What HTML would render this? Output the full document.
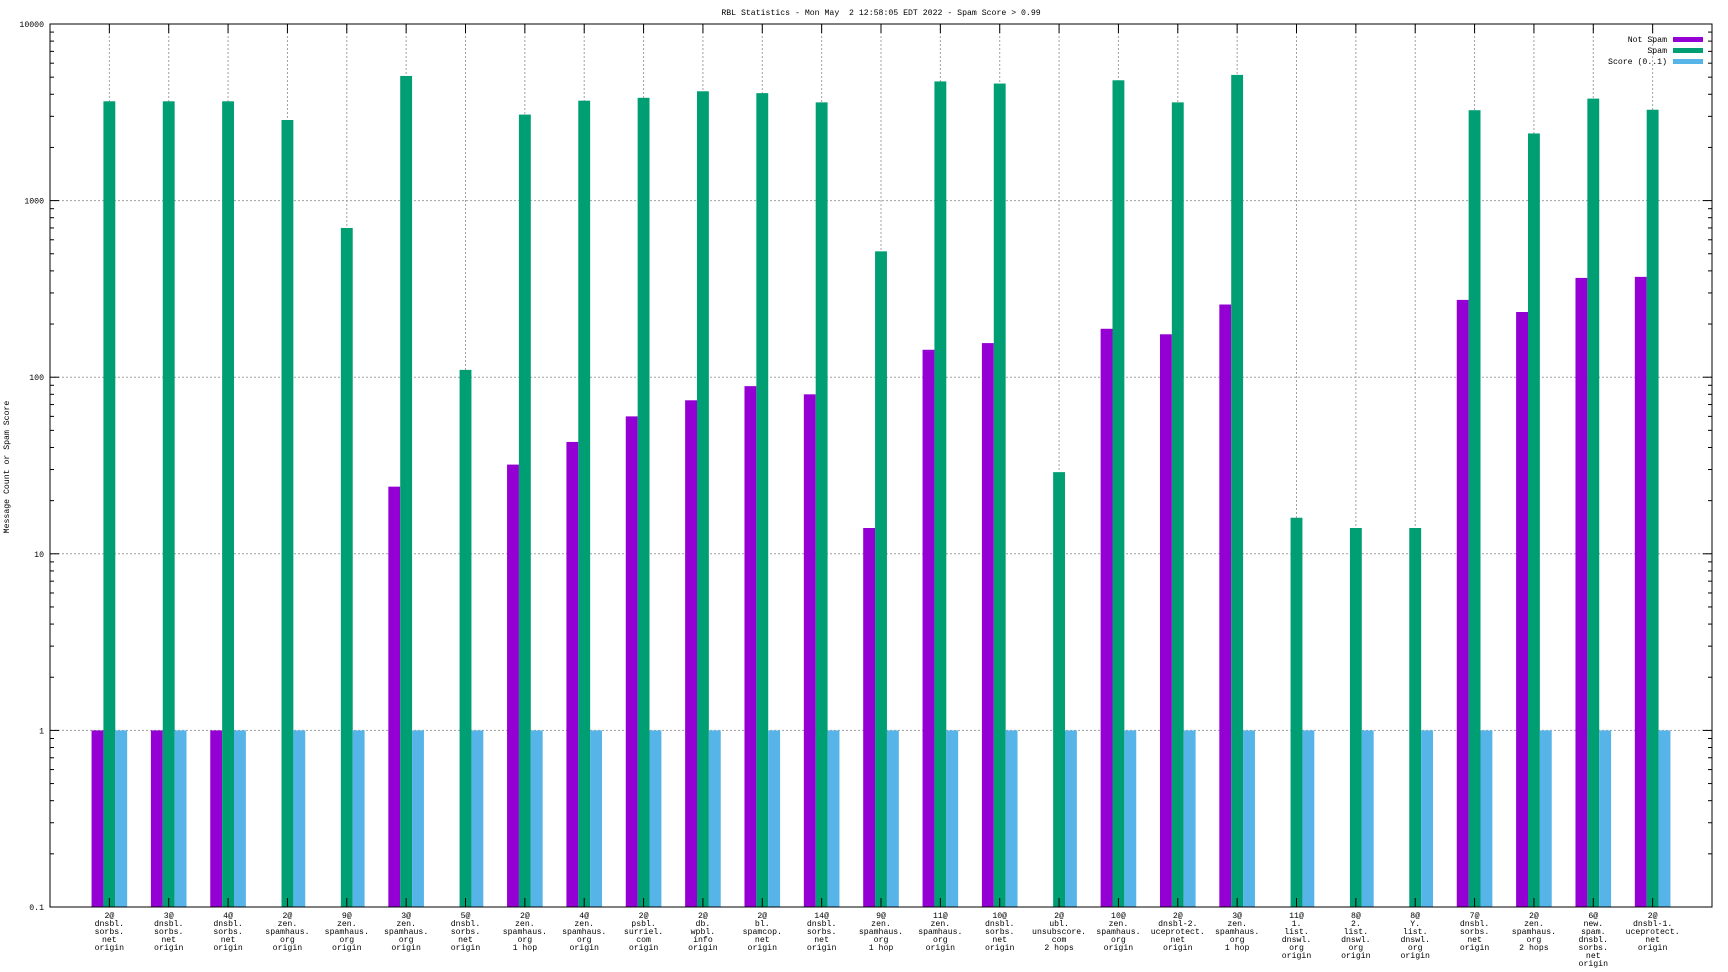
<!DOCTYPE html>
<html><head><meta charset="utf-8"><style>
html,body{margin:0;padding:0;background:#fff}
svg{display:block}
text{font-family:"Liberation Mono",monospace;font-size:8.2px;fill:#000;white-space:pre}
</style></head><body>
<svg id="chart" width="1728" height="972" viewBox="0 0 1728 972" xmlns="http://www.w3.org/2000/svg">
<text xml:space="preserve" x="881" y="15" text-anchor="middle">RBL Statistics - Mon May  2 12:58:05 EDT 2022 - Spam Score &gt; 0.99</text>
<text transform="translate(9,467) rotate(-90)" text-anchor="middle">Message Count or Spam Score</text>
<g id="grid"></g><g id="bars"></g><g id="axes"></g><g id="labels"></g>
<g id="legend">
<text x="1667" y="42" text-anchor="end">Not Spam</text>
<rect x="1673" y="37" width="30" height="5" fill="#9400d3"/>
<text x="1667" y="53" text-anchor="end">Spam</text>
<rect x="1673" y="48" width="30" height="5" fill="#009e73"/>
<text x="1667" y="64" text-anchor="end">Score (0..1)</text>
<rect x="1673" y="59" width="30" height="5" fill="#56b4e9"/>
</g>
</svg>
<script>
const categories = [
"2@|dnsbl.|sorbs.|net|origin","3@|dnsbl.|sorbs.|net|origin","4@|dnsbl.|sorbs.|net|origin",
"2@|zen.|spamhaus.|org|origin","9@|zen.|spamhaus.|org|origin","3@|zen.|spamhaus.|org|origin",
"5@|dnsbl.|sorbs.|net|origin","2@|zen.|spamhaus.|org|1 hop","4@|zen.|spamhaus.|org|origin",
"2@|psbl.|surriel.|com|origin","2@|db.|wpbl.|info|origin","2@|bl.|spamcop.|net|origin",
"14@|dnsbl.|sorbs.|net|origin","9@|zen.|spamhaus.|org|1 hop","11@|zen.|spamhaus.|org|origin",
"10@|dnsbl.|sorbs.|net|origin","2@|ubl.|unsubscore.|com|2 hops","10@|zen.|spamhaus.|org|origin",
"2@|dnsbl-2.|uceprotect.|net|origin","3@|zen.|spamhaus.|org|1 hop","11@|1.|list.|dnswl.|org|origin",
"8@|2.|list.|dnswl.|org|origin","8@|Y.|list.|dnswl.|org|origin","7@|dnsbl.|sorbs.|net|origin",
"2@|zen.|spamhaus.|org|2 hops","6@|new.|spam.|dnsbl.|sorbs.|net|origin","2@|dnsbl-1.|uceprotect.|net|origin"];
const notSpam = [1,1,1,null,null,24,null,32,43,60,74,89,80,14,143,156,null,188,175,258,null,null,null,274,234,365,370];
const spam = [3650,3650,3650,2860,700,5080,110,3070,3680,3820,4160,4060,3600,516,4730,4600,29,4800,3600,5150,16,14,14,3250,2400,3780,3270];
const score = [1,1,1,1,1,1,1,1,1,1,1,1,1,1,1,1,1,1,1,1,1,1,1,1,1,1,1];
const yTicks = ["0.1","1","10","100","1000","10000"];

const NS="http://www.w3.org/2000/svg";
const L=50,R=1712,T=24,B=907;
const X0=-1,X1=27,YMIN=-1,YMAX=4;
function xs(v){return L+(v-X0)/(X1-X0)*(R-L);}
function ys(v){return B-(Math.log10(v)-YMIN)/(YMAX-YMIN)*(B-T);}
function mk(tag,attrs,parent){const e=document.createElementNS(NS,tag);for(const k in attrs)e.setAttribute(k,attrs[k]);parent.appendChild(e);return e;}
const grid=document.getElementById('grid'),bars=document.getElementById('bars'),axes=document.getElementById('axes'),labels=document.getElementById('labels');

yTicks.forEach((t,i)=>{
  const v=parseFloat(t),y=ys(v);
  if(i>0&&i<yTicks.length-1){const g=mk('line',{x1:L,x2:R,y1:y,y2:y,stroke:'#a0a0a0','stroke-width':1,'stroke-dasharray':'2,2'},grid);
  
  }
  const tx=mk('text',{x:L-6,y:y+3,'text-anchor':'end'},labels);tx.textContent=t;
  
  
  mk('line',{x1:L,x2:L+9,y1:y,y2:y,stroke:'#000'},axes);
  mk('line',{x1:R,x2:R-9,y1:y,y2:y,stroke:'#000'},axes);
  if(i<yTicks.length-1){for(let m=2;m<=9;m++){const yy=ys(v*m);
    mk('line',{x1:L,x2:L+4,y1:yy,y2:yy,stroke:'#000'},axes);
    mk('line',{x1:R,x2:R-4,y1:yy,y2:yy,stroke:'#000'},axes);}}
});
const bw=(R-L)/(X1-X0)*0.2;
categories.forEach((c,i)=>{
  const x=xs(i);
  const g=mk('line',{x1:x,x2:x,y1:T,y2:B,stroke:'#a0a0a0','stroke-width':1,'stroke-dasharray':'2,2'},grid);
  
  
  mk('line',{x1:x,x2:x,y1:T,y2:T+9,stroke:'#000'},axes);
  mk('line',{x1:x,x2:x,y1:B,y2:B-9,stroke:'#000'},axes);
  const series=[[notSpam,'#9400d3','not-spam'],[spam,'#009e73','spam'],[score,'#56b4e9','score']];
  series.forEach((s,k)=>{
    const v=s[0][i]; if(v==null||v<=0) return;
    const x0=x+(k-1.5)*bw, y=ys(v);
    const r=mk('rect',{x:x0,y:y,width:bw,height:B-y,fill:s[1]},bars);
    
    
  });
  const t=mk('text',{x:x,y:B+11,'text-anchor':'middle'},labels);
  
  
  c.split('|').forEach((ln,j)=>{const ts=mk('tspan',{x:x,dy:j?8:0},t);ts.textContent=ln;});
});
const fr=mk('rect',{x:L,y:T,width:R-L,height:B-T,fill:'none',stroke:'#000','stroke-width':1},axes);


</script>
</body></html>
